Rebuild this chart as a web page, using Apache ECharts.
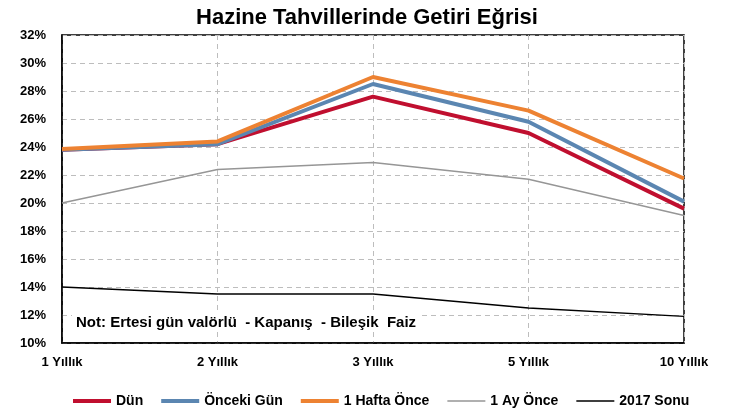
<!DOCTYPE html>
<html>
<head>
<meta charset="utf-8">
<script src="https://cdn.jsdelivr.net/npm/echarts@6/dist/echarts.min.js"></script>
<style>
  html, body { margin: 0; padding: 0; background: #fff; }
  #chart { width: 734px; height: 416px; }
</style>
</head>
<body>
<div id="chart"></div>
<script>
const maturities = ['1 Yıllık', '2 Yıllık', '3 Yıllık', '5 Yıllık', '10 Yıllık'];
const dun = [23.8, 24.2, 27.6, 25.0, 19.6];
const oncekiGun = [23.8, 24.2, 28.5, 25.8, 20.1];
const birHafta = [23.85, 24.4, 29.0, 26.6, 21.75];
const birAy = [20.0, 22.4, 22.9, 21.7, 19.1];
const sonu2017 = [14.0, 13.5, 13.5, 12.5, 11.9];

const font = '"Liberation Sans", Arial, sans-serif';
const thickIcon = 'path://M0,0H40V4H0Z';
const thinIcon = 'path://M0,0H40V0.01H0Z M0,1.1H40V2.9H0Z M0,3.99H40V4H0Z';

const chart = echarts.init(document.getElementById('chart'));

const line = (name, data, color, width) => ({
    name: name,
    type: 'line',
    data: data,
    showSymbol: false,
    symbol: 'none',
    lineStyle: { color: color, width: width },
    itemStyle: { color: color },
    animation: false
});

chart.setOption({
    title: {
        text: 'Hazine Tahvillerinde Getiri Eğrisi',
        left: 'center',
        top: 2,
        textStyle: { fontFamily: font, fontSize: 22, fontWeight: 'bold', color: '#000' }
    },
    grid: { left: 62, right: 50, top: 35, bottom: 73, show: true, borderColor: '#000', borderWidth: 1.5 },
    xAxis: {
        type: 'category',
        data: maturities,
        boundaryGap: false,
        axisLine: { lineStyle: { color: '#000', width: 1.5 } },
        axisTick: { show: false },
        axisLabel: { fontFamily: font, fontSize: 13, fontWeight: 'bold', color: '#000', margin: 13 },
        splitLine: { show: true, lineStyle: { color: '#bdbdbd', type: [5, 4] } }
    },
    yAxis: {
        type: 'value',
        min: 10,
        max: 32,
        interval: 2,
        axisLine: { show: true, lineStyle: { color: '#000', width: 1.5 } },
        axisTick: { show: false },
        axisLabel: { fontFamily: font, fontSize: 13, fontWeight: 'bold', color: '#000', formatter: '{value}%', margin: 16 },
        splitLine: { lineStyle: { color: '#bdbdbd', type: [5, 4] } }
    },
    legend: {
        bottom: 3,
        left: 68,
        itemWidth: 38,
        itemHeight: 4,
        itemGap: 18,
        textStyle: { fontFamily: font, fontSize: 14, fontWeight: 'bold', color: '#000' },
        data: [
            { name: 'Dün', icon: thickIcon },
            { name: 'Önceki Gün', icon: thickIcon },
            { name: '1 Hafta Önce', icon: thickIcon },
            { name: '1 Ay Önce', icon: thinIcon },
            { name: '2017 Sonu', icon: thinIcon }
        ]
    },
    graphic: [{
        type: 'text',
        left: 72,
        top: 313,
        z: 10,
        style: {
            text: 'Not: Ertesi gün valörlü  - Kapanış  - Bileşik  Faiz',
            font: 'bold 15px ' + font,
            fill: '#000',
            backgroundColor: '#fff',
            padding: [2, 4]
        }
    }],
    series: [
        line('Dün', dun, '#C00F2F', 4),
        line('Önceki Gün', oncekiGun, '#5B86B1', 4),
        line('1 Hafta Önce', birHafta, '#ED8232', 4),
        line('1 Ay Önce', birAy, '#969696', 1.5),
        line('2017 Sonu', sonu2017, '#000000', 1.3)
    ]
});
</script>
</body>
</html>
